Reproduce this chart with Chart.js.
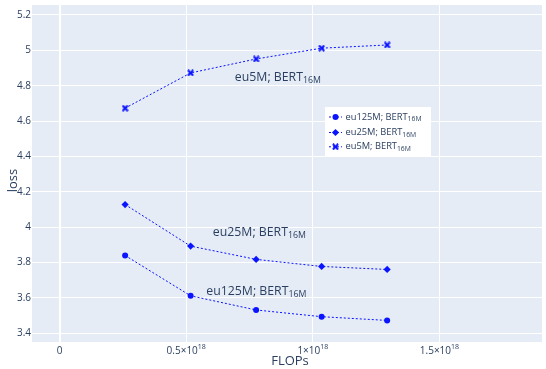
<!DOCTYPE html>
<html>
<head>
<meta charset="utf-8">
<script src="https://cdn.jsdelivr.net/npm/chart.js@4/dist/chart.umd.min.js"></script>
<style>
  html, body { margin: 0; padding: 0; background: #ffffff; }
  #wrap { width: 546px; height: 369px; }
</style>
</head>
<body>
<div id="wrap"><canvas id="c" width="546" height="369"></canvas></div>
<script>
// Compute budget (FLOPs) for each training run
const flops = [2.587e17, 5.174e17, 7.761e17, 1.0348e18, 1.2935e18];

// Loss per run, one array per data-size setting
const lossEu125M = [3.840, 3.612, 3.532, 3.494, 3.473];
const lossEu25M  = [4.128, 3.893, 3.818, 3.778, 3.761];
const lossEu5M   = [4.673, 4.872, 4.951, 5.012, 5.030];

// Series labels (main text + subscript)
const seriesNames = ['eu125M; BERT', 'eu25M; BERT', 'eu5M; BERT'];
const seriesSub = '16M';

// Tick values and labels
const yTickValues = [3.4, 3.6, 3.8, 4.0, 4.2, 4.4, 4.6, 4.8, 5.0, 5.2];
const xTickValues = [0, 5e17, 1e18, 1.5e18];
const xTickMantissa = ['0', '0.5×10', '1×10', '1.5×10'];
const xTickExponent = ['', '18', '18', '18'];

// In-plot labels: anchor (FLOPs, loss) for each series label
const labelX = [7.77e17, 7.89e17, 8.62e17];
const labelY = [3.635, 3.968, 4.846];

const BLUE = '#0a14ff';
const TEXT = '#2a3f5f';
const FONT = '"Open Sans", "Liberation Sans", sans-serif';

// Filled "x" marker drawn onto a small canvas
function makeXMarker() {
  const cv = document.createElement('canvas');
  cv.width = 7; cv.height = 7;
  const g = cv.getContext('2d');
  g.strokeStyle = BLUE;
  g.lineWidth = 2.1;
  g.lineCap = 'square';
  g.beginPath();
  g.moveTo(1.6, 1.6); g.lineTo(5.4, 5.4);
  g.moveTo(5.4, 1.6); g.lineTo(1.6, 5.4);
  g.stroke();
  return cv;
}
const xMarker = makeXMarker();

const markerStyles = ['circle', 'rectRot', xMarker];
const markerRadius = [3, 3.6, 3.5];
const seriesData = [lossEu125M, lossEu25M, lossEu5M];

function toPoints(ys) { return flops.map((x, i) => ({ x: x, y: ys[i] })); }

// Text with a trailing subscript or superscript
function drawRich(ctx, x, y, main, extra, size, extraSize, shift, align) {
  ctx.font = size + 'px ' + FONT;
  const w1 = ctx.measureText(main).width;
  ctx.font = extraSize + 'px ' + FONT;
  const w2 = extra ? ctx.measureText(extra).width : 0;
  let x0 = x;
  if (align === 'center') x0 = x - (w1 + w2) / 2;
  else if (align === 'right') x0 = x - (w1 + w2);
  ctx.textAlign = 'left';
  ctx.textBaseline = 'middle';
  ctx.font = size + 'px ' + FONT;
  ctx.fillText(main, x0, y);
  if (extra) {
    ctx.font = extraSize + 'px ' + FONT;
    ctx.fillText(extra, x0 + w1, y + shift);
  }
}

const decor = {
  id: 'decor',
  beforeDraw(chart) {
    const { ctx, chartArea: a } = chart;
    ctx.save();
    ctx.fillStyle = '#e5ecf6';
    ctx.fillRect(a.left, a.top, a.right - a.left, a.bottom - a.top);
    ctx.restore();
  },
  afterDraw(chart) {
    const { ctx, chartArea: a, scales } = chart;
    const xs = scales.x, ys = scales.y;
    ctx.save();
    ctx.fillStyle = TEXT;

    // y tick labels
    yTickValues.forEach(v => {
      const py = ys.getPixelForValue(v);
      ctx.font = '10px ' + FONT;
      ctx.textAlign = 'right';
      ctx.textBaseline = 'middle';
      ctx.fillText(String(+v.toFixed(1)), a.left - 1, py);
    });

    // x tick labels with exponent
    xTickValues.forEach((v, i) => {
      const px = xs.getPixelForValue(v);
      drawRich(ctx, px, a.bottom + 9, xTickMantissa[i], xTickExponent[i], 10, 7, -4, 'center');
    });

    // axis titles
    ctx.font = '13px ' + FONT;
    ctx.textAlign = 'center';
    ctx.textBaseline = 'middle';
    ctx.fillText('FLOPs', (a.left + a.right) / 2 + 3, a.bottom + 19);
    ctx.save();
    ctx.translate(13.5, (a.top + a.bottom) / 2 + 7);
    ctx.rotate(-Math.PI / 2);
    ctx.fillText('loss', 0, 0);
    ctx.restore();

    // in-plot series labels
    for (let i = 0; i < seriesNames.length; i++) {
      const px = xs.getPixelForValue(labelX[i]);
      const py = ys.getPixelForValue(labelY[i]);
      drawRich(ctx, px, py, seriesNames[i], seriesSub, 12.3, 8.8, 3, 'center');
    }

    // legend box
    const lx = 325, ly = 107, lw = 106, lh = 49;
    ctx.fillStyle = '#ffffff';
    ctx.fillRect(lx, ly, lw, lh);
    const rowY = [117, 132.5, 146.8];
    chart.data.datasets.forEach((ds, i) => {
      const cy = rowY[i];
      ctx.strokeStyle = BLUE;
      ctx.lineWidth = 1;
      ctx.setLineDash([2, 2]);
      ctx.beginPath();
      ctx.moveTo(329, cy); ctx.lineTo(342, cy);
      ctx.stroke();
      ctx.setLineDash([]);
      ctx.fillStyle = BLUE;
      Chart.helpers.drawPoint(ctx, {
        pointStyle: ds.pointStyle, radius: ds.pointRadius, rotation: 0, borderWidth: 0
      }, 335.5, cy);
      ctx.fillStyle = TEXT;
      drawRich(ctx, 345.5, cy, seriesNames[i], seriesSub, 9.3, 6.8, 2.5, 'left');
    });
    ctx.restore();
  }
};

new Chart(document.getElementById('c'), {
  type: 'line',
  data: {
    datasets: seriesData.map((ys, i) => ({
      label: seriesNames[i] + seriesSub,
      data: toPoints(ys),
      borderColor: BLUE,
      backgroundColor: BLUE,
      borderWidth: 1,
      borderDash: [2, 2],
      pointStyle: markerStyles[i],
      pointRadius: markerRadius[i],
      pointBorderWidth: 0,
      pointBackgroundColor: BLUE,
      tension: 0,
      fill: false
    }))
  },
  options: {
    responsive: false,
    animation: false,
    layout: { padding: { left: 0, top: 5, right: 1, bottom: 0 } },
    plugins: { legend: { display: false }, tooltip: { enabled: false } },
    scales: {
      x: {
        type: 'linear',
        min: -1.09e17,
        max: 1.905e18,
        border: { display: false },
        grid: {
          color: '#ffffff',
          lineWidth: c => (c.tick && c.tick.value === 0 ? 2 : 1),
          drawTicks: false
        },
        ticks: { display: false },
        afterBuildTicks: s => { s.ticks = xTickValues.map(v => ({ value: v })); },
        afterFit: s => { s.height = 27; }
      },
      y: {
        type: 'linear',
        min: 3.351,
        max: 5.256,
        border: { display: false },
        grid: { color: '#ffffff', lineWidth: 1, drawTicks: false },
        ticks: { display: false },
        afterBuildTicks: s => { s.ticks = yTickValues.map(v => ({ value: v })); },
        afterFit: s => { s.width = 32; }
      }
    }
  },
  plugins: [decor]
});
</script>
</body>
</html>
